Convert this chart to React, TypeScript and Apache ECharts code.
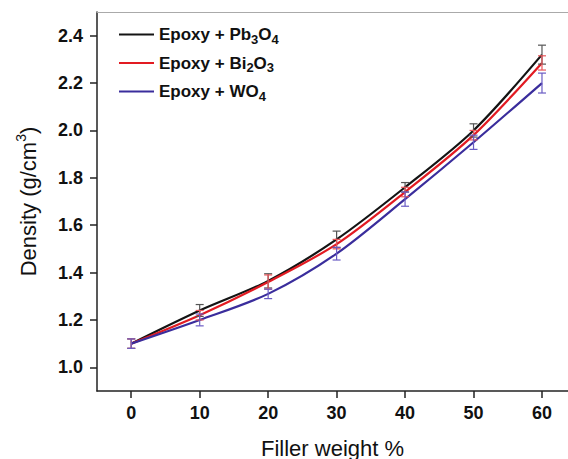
import React, { useEffect, useRef } from "react";
import * as echarts from "echarts";

const fillerWeight = [0, 10, 20, 30, 40, 50, 60];
const seriesNames = ["Epoxy + Pb3O4", "Epoxy + Bi2O3", "Epoxy + WO4"];
const pb3o4 = [1.10, 1.24, 1.365, 1.54, 1.76, 2.0, 2.32];
const bi2o3 = [1.10, 1.22, 1.36, 1.52, 1.74, 1.98, 2.285];
const wo4 = [1.10, 1.20, 1.31, 1.48, 1.71, 1.95, 2.20];
const pb3o4Err = [0.02, 0.025, 0.03, 0.035, 0.02, 0.028, 0.04];
const bi2o3Err = [0.02, 0.02, 0.03, 0.02, 0.02, 0.02, 0.03];
const wo4Err = [0.02, 0.025, 0.02, 0.027, 0.03, 0.03, 0.042];
const xTicks = [0, 10, 20, 30, 40, 50, 60];
const yTicks = [1.0, 1.2, 1.4, 1.6, 1.8, 2.0, 2.2, 2.4];

const FONT = "'Liberation Sans', Arial, sans-serif";
const lineColors = ["#141414", "#e21b22", "#3a2d9c"];
const errColors = ["#555555", "#e8555a", "#6a5cc4"];

const legendRich: Record<string, string> = {
  "Epoxy + Pb3O4": "Epoxy + Pb{sub|3}O{sub|4}",
  "Epoxy + Bi2O3": "Epoxy + Bi{sub|2}O{sub|3}",
  "Epoxy + WO4": "Epoxy + WO{sub|4}",
};

export default function App() {
  const ref = useRef<HTMLDivElement>(null);
  useEffect(() => {
    if (!ref.current) return;
    const chart = echarts.init(ref.current, null, { renderer: "svg" });
    const vals = [pb3o4, bi2o3, wo4];
    const errs = [pb3o4Err, bi2o3Err, wo4Err];

    const lineSeries = seriesNames.map((name, i) => ({
      name,
      type: "line",
      data: fillerWeight.map((x, j) => [x, vals[i][j]]),
      smooth: 0.3,
      symbol: "none",
      lineStyle: { color: lineColors[i], width: 2.2 },
      itemStyle: { color: lineColors[i] },
      z: 2 + i,
    }));

    const errSeries = seriesNames.map((name, i) => ({
      name: name + " err",
      type: "custom",
      data: fillerWeight.map((x, j) => [x, vals[i][j], errs[i][j]]),
      z: 10 + i,
      renderItem: (params: any, api: any) => {
        const x = api.value(0);
        const y = api.value(1);
        const e = api.value(2);
        const top = api.coord([x, y + e]);
        const bot = api.coord([x, y - e]);
        const hw = 4;
        const style = { stroke: errColors[i], lineWidth: 1.2 };
        return {
          type: "group",
          children: [
            { type: "line", shape: { x1: top[0], y1: top[1], x2: bot[0], y2: bot[1] }, style },
            { type: "line", shape: { x1: top[0] - hw, y1: top[1], x2: top[0] + hw, y2: top[1] }, style },
            { type: "line", shape: { x1: bot[0] - hw, y1: bot[1], x2: bot[0] + hw, y2: bot[1] }, style },
          ],
        };
      },
    }));

    chart.setOption({
      animation: false,
      backgroundColor: "#ffffff",
      grid: { left: 97, right: 0, top: 12, bottom: 68, containLabel: false, outerBoundsMode: "none" },
      legend: {
        data: seriesNames,
        orient: "vertical",
        left: 119,
        top: 26,
        padding: 0,
        itemWidth: 35,
        itemHeight: 2,
        itemGap: 9,
        icon: "rect",
        formatter: (n: string) => legendRich[n] || n,
        textStyle: {
          fontFamily: FONT,
          fontSize: 17,
          fontWeight: "bold",
          color: "#111",
          rich: {
            sub: { fontFamily: FONT, fontSize: 13, fontWeight: "bold", color: "#111", padding: [9, 0, 0, 0] },
          },
        },
      },
      xAxis: [
        {
          type: "value",
          min: -5,
          max: 63.8,
          name: "Filler weight %",
          nameLocation: "middle",
          nameGap: 46,
          nameTextStyle: { fontFamily: FONT, fontSize: 22, color: "#111" },
          axisLine: { show: true, lineStyle: { color: "#222", width: 1.5 } },
          axisTick: { show: true, customValues: xTicks, length: 7, lineStyle: { color: "#222", width: 1.5 } },
          axisLabel: {
            customValues: xTicks,
            margin: 13,
            fontFamily: FONT,
            fontSize: 18,
            fontWeight: "bold",
            color: "#111",
          },
          splitLine: { show: false },
        },
        {
          type: "value",
          position: "top",
          min: -5,
          max: 63.8,
          axisLine: { show: true, onZero: false, lineStyle: { color: "#aaaaaa", width: 1.2 } },
          axisTick: { show: false },
          axisLabel: { show: false },
          splitLine: { show: false },
        },
      ],
      yAxis: {
        type: "value",
        min: 0.9,
        max: 2.5,
        name: "Density (g/cm{sup|3})",
        nameLocation: "middle",
        nameGap: 55,
        nameTextStyle: {
          fontFamily: FONT,
          fontSize: 22,
          color: "#111",
          rich: { sup: { fontFamily: FONT, fontSize: 14, color: "#111", padding: [0, 0, 14, 0] } },
        },
        axisLine: { show: true, onZero: false, lineStyle: { color: "#222", width: 1.5 } },
        axisTick: { show: true, customValues: yTicks, length: 7, lineStyle: { color: "#222", width: 1.5 } },
        axisLabel: {
          customValues: yTicks,
          margin: 14,
          formatter: (v: number) => v.toFixed(1),
          fontFamily: FONT,
          fontSize: 18,
          fontWeight: "bold",
          color: "#111",
        },
        splitLine: { show: false },
      },
      series: [...lineSeries, ...errSeries],
    });
    return () => chart.dispose();
  }, []);
  return (
    <div
      ref={ref}
      style={{ position: "fixed", left: 0, top: 0, width: 568, height: 459, background: "#fff" }}
    />
  );
}
